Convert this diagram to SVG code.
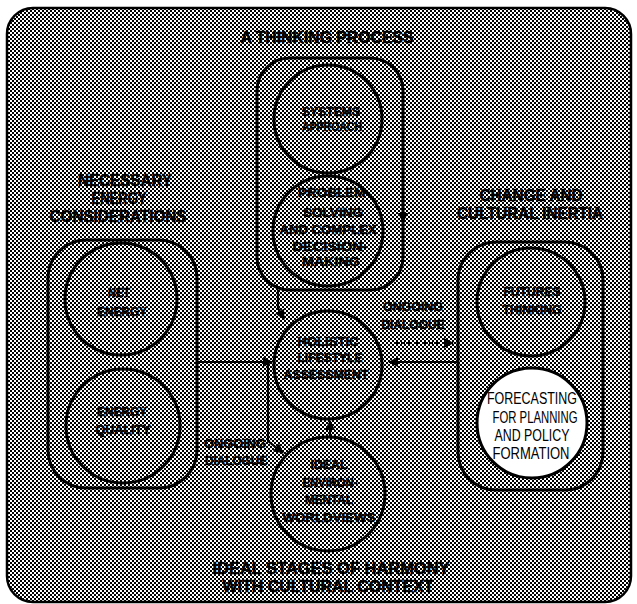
<svg xmlns="http://www.w3.org/2000/svg" width="637" height="604" viewBox="0 0 637 604">
  <defs>
    <!-- halftone screen used as the panel fill -->
    <pattern id="screen" width="4" height="4" patternUnits="userSpaceOnUse">
      <rect width="4" height="4" fill="#ffffff"/>
      <rect x="0" y="0" width="2" height="2" fill="#000"/>
      <rect x="2" y="2" width="2" height="2" fill="#000"/>
    </pattern>
    <marker id="arrow" viewBox="0 0 10 10" refX="9" refY="5" markerWidth="11" markerHeight="10" markerUnits="userSpaceOnUse" orient="auto">
      <path d="M0,0 L10,5 L0,10 Z" fill="#000"/>
    </marker>
  </defs>
  <style>
    .panel { fill: url(#screen); stroke: #000; stroke-width: 2.5; }
    .group { fill: url(#screen); stroke: #000; stroke-width: 3; }
    .node { fill: url(#screen); stroke: #000; stroke-width: 3; }
    .light { fill: #ffffff; stroke: #000; stroke-width: 3; }
    .conn { fill: none; stroke: #000; stroke-width: 2.2; marker-end: url(#arrow); }
    .dash { stroke-dasharray: 4 3; }
    text { font-family: "Liberation Sans", Arial, sans-serif; font-weight: bold; fill: #000; stroke: #000; stroke-width: 0.5; text-anchor: middle; }
    .head { font-size: 16px; }
    .lbl { font-size: 13.5px; }
    .plain { font-family: "Liberation Sans", Arial, sans-serif; font-weight: normal; font-size: 16px; stroke: none; }
  </style>

  <rect width="637" height="604" fill="#ffffff"/>
  <rect class="panel" x="7" y="8" width="624" height="594" rx="26"/>

  <!-- group headings -->
  <g id="headings">
    <text class="head" x="327" y="43" textLength="173" lengthAdjust="spacingAndGlyphs">A THINKING PROCESS</text>
    <text class="head" x="125" y="186" textLength="94" lengthAdjust="spacingAndGlyphs">NECESSARY</text>
    <text class="head" x="119" y="204" textLength="55" lengthAdjust="spacingAndGlyphs">ENERGY</text>
    <text class="head" x="118" y="222" textLength="137" lengthAdjust="spacingAndGlyphs">CONSIDERATIONS</text>
    <text class="head" x="531" y="201" textLength="103" lengthAdjust="spacingAndGlyphs">CHANGE AND</text>
    <text class="head" x="530" y="219" textLength="146" lengthAdjust="spacingAndGlyphs">CULTURAL INERTIA</text>
    <text class="head" x="331" y="574" textLength="237" lengthAdjust="spacingAndGlyphs">IDEAL STAGES OF HARMONY</text>
    <text class="head" x="328" y="592" textLength="211" lengthAdjust="spacingAndGlyphs">WITH CULTURAL CONTEXT</text>
  </g>

  <!-- containers -->
  <g id="thinking-process">
    <rect class="group" x="257" y="58" width="146" height="232" rx="33"/>
  </g>
  <g id="energy-considerations">
    <rect class="group" x="48" y="240" width="149" height="248" rx="38"/>
  </g>
  <g id="change-inertia">
    <rect class="group" x="458" y="242" width="145" height="248" rx="38"/>
  </g>

  <g id="connectors">
    <line class="conn" x1="198" y1="362" x2="272" y2="362"/>
    <line class="conn" x1="457" y1="362" x2="389" y2="362"/>
    <line class="conn dash" x1="394" y1="343" x2="453" y2="343"/>
    <path class="conn" d="M278,290 L278,308 L284,319"/>
    <path class="conn" d="M403,196 L403,222"/>
    <line class="conn" x1="330" y1="438" x2="330" y2="421"/>
    <path class="conn" d="M268,363 L268,441 L283,453"/>
  </g>

  <g id="systems-approach">
    <circle class="node" cx="328" cy="119" r="54"/>
    <text class="lbl" x="331" y="116" textLength="58" lengthAdjust="spacingAndGlyphs">SYSTEMS</text>
    <text class="lbl" x="332" y="131" textLength="60" lengthAdjust="spacingAndGlyphs">APPROACH</text>
  </g>

  <g id="problem-solving">
    <circle class="node" cx="328" cy="231" r="55"/>
    <text class="lbl" x="334" y="197" textLength="72" lengthAdjust="spacingAndGlyphs">PROBLEM-</text>
    <text class="lbl" x="333" y="217" textLength="60" lengthAdjust="spacingAndGlyphs">SOLVING</text>
    <text class="lbl" x="328" y="234" textLength="97" lengthAdjust="spacingAndGlyphs">AND COMPLEX</text>
    <text class="lbl" x="330" y="251" textLength="75" lengthAdjust="spacingAndGlyphs">DECISION-</text>
    <text class="lbl" x="331" y="266" textLength="58" lengthAdjust="spacingAndGlyphs">MAKING</text>
  </g>

  <g id="net-energy">
    <circle class="node" cx="121" cy="299" r="56"/>
    <text class="lbl" x="119" y="297" textLength="22" lengthAdjust="spacingAndGlyphs">NET</text>
    <text class="lbl" x="122" y="316" textLength="50" lengthAdjust="spacingAndGlyphs">ENERGY</text>
  </g>

  <g id="energy-quality">
    <circle class="node" cx="123" cy="426" r="57"/>
    <text class="lbl" x="122" y="416" textLength="50" lengthAdjust="spacingAndGlyphs">ENERGY</text>
    <text class="lbl" x="123" y="434" textLength="55" lengthAdjust="spacingAndGlyphs">QUALITY</text>
  </g>

  <g id="holistic-assessment">
    <circle class="node" cx="328" cy="365" r="54"/>
    <text class="lbl" x="328" y="346" textLength="61" lengthAdjust="spacingAndGlyphs">HOLISTIC</text>
    <text class="lbl" x="330" y="362" textLength="65" lengthAdjust="spacingAndGlyphs">LIFESTYLE</text>
    <text class="lbl" x="326" y="379" textLength="85" lengthAdjust="spacingAndGlyphs">ASSESSMENT</text>
  </g>

  <g id="ideal-worldviews">
    <circle class="node" cx="328" cy="494" r="57"/>
    <text class="lbl" x="329" y="469" textLength="37" lengthAdjust="spacingAndGlyphs">IDEAL</text>
    <text class="lbl" x="330" y="487" textLength="55" lengthAdjust="spacingAndGlyphs">ENVIRON-</text>
    <text class="lbl" x="329" y="504" textLength="48" lengthAdjust="spacingAndGlyphs">MENTAL</text>
    <text class="lbl" x="329" y="522" textLength="93" lengthAdjust="spacingAndGlyphs">WORLDVIEWS</text>
  </g>

  <g id="futures-thinking">
    <circle class="node" cx="531" cy="302" r="54"/>
    <text class="lbl" x="532" y="296" textLength="57" lengthAdjust="spacingAndGlyphs">FUTURES</text>
    <text class="lbl" x="532" y="314" textLength="59" lengthAdjust="spacingAndGlyphs">THINKING</text>
  </g>

  <g id="forecasting">
    <circle class="light" cx="532" cy="423" r="55"/>
    <text class="plain" x="532" y="404" textLength="90" lengthAdjust="spacingAndGlyphs">FORECASTING</text>
    <text class="plain" x="535" y="423" textLength="85" lengthAdjust="spacingAndGlyphs">FOR PLANNING</text>
    <text class="plain" x="532" y="441" textLength="75" lengthAdjust="spacingAndGlyphs">AND POLICY</text>
    <text class="plain" x="531" y="459" textLength="77" lengthAdjust="spacingAndGlyphs">FORMATION</text>
  </g>

  <g id="dialogue-labels">
    <text class="lbl" x="413" y="311" textLength="60" lengthAdjust="spacingAndGlyphs">ONGOING</text>
    <text class="lbl" x="413" y="329" textLength="63" lengthAdjust="spacingAndGlyphs">DIALOGUE</text>
    <text class="lbl" x="235" y="448" textLength="62" lengthAdjust="spacingAndGlyphs">ONGOING</text>
    <text class="lbl" x="236" y="465" textLength="62" lengthAdjust="spacingAndGlyphs">DIALOGUE</text>
  </g>
</svg>
